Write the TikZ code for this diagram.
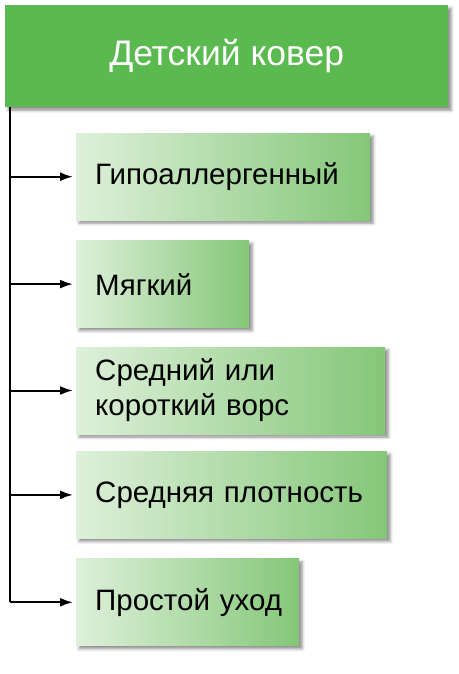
\documentclass[tikz,border=0pt]{standalone}
\usepackage{fontspec}
\setmainfont{Liberation Sans}
\usetikzlibrary{positioning,shadows.blur,arrows.meta}

\definecolor{headgreen}{RGB}{91,186,79}
\definecolor{boxlight}{RGB}{222,240,218}
\definecolor{boxdark}{RGB}{132,199,120}

\begin{document}
\begin{tikzpicture}[x=1pt,y=-1pt]
	\tikzset{
		my shadow/.style={
				blur shadow={shadow xshift=3pt, shadow yshift=-3pt,
						shadow blur radius=3pt, shadow opacity=45},
			},
		my head/.style={
				my shadow, fill=headgreen, text=white,
				minimum width=443pt, minimum height=102pt, inner sep=0pt,
				font=\fontsize{35.5}{40}\selectfont,
			},
		my box/.style={
				my shadow, left color=boxlight, right color=boxdark,
				minimum height=87pt, inner xsep=19pt, inner ysep=0pt,
				align=left, font=\fontsize{29.5}{35}\selectfont,
			},
		my arrow/.style={
				line width=2pt, -{Latex[length=13pt,width=9pt]}, shorten >=3pt,
			},
	}
	\useasboundingbox (0,0) rectangle (458,674);
	\node[my head, anchor=north west] at (5,5) (head) {Детский ковер};
	\node[my box, text width=256pt, anchor=north west] at (76,133) (hypo) {Гипоаллергенный};
	\node[my box, text width=135pt, below=20pt of hypo.south west, anchor=north west] (soft) {Мягкий};
	\node[my box, text width=271pt, below=19pt of soft.south west, anchor=north west] (pile) {Средний или\\короткий ворс};
	\node[my box, text width=273pt, below=17pt of pile.south west, anchor=north west] (dens) {Средняя плотность};
	\node[my box, text width=185pt, below=20pt of dens.south west, anchor=north west] (care) {Простой~уход};
	%
	\coordinate (trunk) at ([xshift=5pt]head.south west);
	\coordinate (trunkend) at (trunk |- care.west);
	\draw[line width=2pt] (trunk) -- (trunkend);
	\foreach \n in {hypo,soft,pile,dens,care}
	\draw[my arrow] (trunk |- \n.west) -- (\n.west);
\end{tikzpicture}
\end{document}
